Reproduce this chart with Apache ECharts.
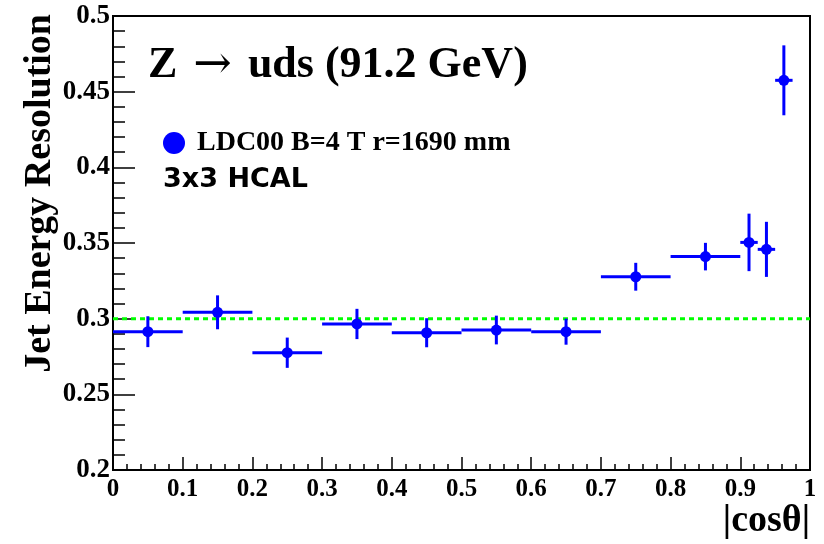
<!DOCTYPE html>
<html>
<head>
<meta charset="utf-8">
<script src="https://cdn.jsdelivr.net/npm/echarts@6/dist/echarts.min.js"></script>
<style>
  html, body { margin: 0; padding: 0; background: #fff; }
  #chart { width: 824px; height: 544px; }
</style>
</head>
<body>
<div id="chart"></div>
<script>
// bins in |cos theta|
var binLow  = [0.0, 0.1, 0.2, 0.3, 0.4, 0.5, 0.6, 0.7, 0.8, 0.9, 0.925, 0.95];
var binHigh = [0.1, 0.2, 0.3, 0.4, 0.5, 0.6, 0.7, 0.8, 0.9, 0.925, 0.95, 0.975];
var binCenter = [0.05, 0.15, 0.25, 0.35, 0.45, 0.55, 0.65, 0.75, 0.85, 0.9125, 0.9375, 0.9625];
// jet energy resolution and its error
var resolution = [0.2914, 0.3042, 0.2775, 0.2965, 0.2907, 0.2925, 0.2914, 0.3277, 0.3410, 0.3504, 0.3458, 0.4575];
var resError   = [0.0102, 0.0112, 0.0100, 0.0100, 0.0096, 0.0095, 0.0086, 0.0092, 0.0091, 0.0190, 0.0182, 0.0231];
// reference line
var refX = [0, 1];
var refY = [0.3, 0.3];

var seriesName = 'LDC00 B=4 T r=1690 mm';

var chart = echarts.init(document.getElementById('chart'));

var points = binCenter.map(function (x, i) { return [x, resolution[i]]; });
var bars = binCenter.map(function (x, i) {
  return [binLow[i], binHigh[i], resolution[i] - resError[i], resolution[i] + resError[i], x, resolution[i]];
});

var serif = '"Liberation Serif", "DejaVu Serif", serif';

option = {
  animation: false,
  backgroundColor: '#fff',
  grid: {
    left: 113, right: 14, top: 16, bottom: 74,
    show: true,
    borderColor: '#000',
    borderWidth: 2,
    backgroundColor: 'transparent'
  },
  legend: {
    data: [{ name: seriesName, itemStyle: { color: '#0000ff' } }],
    left: 158, top: 124,
    icon: 'circle',
    itemWidth: 22, itemHeight: 22,
    itemGap: 10,
    textStyle: { fontFamily: serif, fontWeight: 'bold', fontSize: 28, color: '#000', padding: [0, 0, 0, 7] }
  },
  xAxis: {
    type: 'value',
    min: 0, max: 1, interval: 0.1,
    axisLine: { lineStyle: { color: '#000', width: 2 } },
    axisTick: { inside: true, length: 13, lineStyle: { color: '#000', width: 1.5 } },
    minorTick: { show: true, splitNumber: 5, length: 6, lineStyle: { color: '#000', width: 1.5 } },
    splitLine: { show: false },
    axisLabel: {
      margin: 7, color: '#000', fontFamily: serif, fontWeight: 'bold', fontSize: 25,
      formatter: function (v) { return String(+v.toFixed(2)); }
    }
  },
  yAxis: {
    type: 'value',
    min: 0.2, max: 0.5, interval: 0.05,
    axisLine: { lineStyle: { color: '#000', width: 2 } },
    axisTick: { inside: true, length: 22, lineStyle: { color: '#000', width: 1.5 } },
    minorTick: { show: true, splitNumber: 5, length: 12, lineStyle: { color: '#000', width: 1.5 } },
    splitLine: { show: false },
    axisLabel: {
      margin: 3, color: '#000', fontFamily: serif, fontWeight: 'bold', fontSize: 27,
      formatter: function (v) { return String(+v.toFixed(2)); }
    }
  },
  graphic: [
    {
      type: 'text', x: 148, y: 66,
      style: {
        text: '{t|Z }{arr|\u2192}{t| uds (91.2 GeV)}',
        verticalAlign: 'middle',
        rich: {
          t: { fill: '#000', fontFamily: serif, fontWeight: 'bold', fontSize: 44 },
          arr: { fill: '#000', fontFamily: '"DejaVu Serif", serif', fontSize: 46, padding: [0, 5, 0, 5] }
        }
      }
    },
    {
      type: 'text', x: 163, y: 180,
      style: { text: '3x3 HCAL', fill: '#000', font: 'bold 27px "DejaVu Sans", sans-serif', verticalAlign: 'middle' }
    },
    {
      type: 'text', x: 40, y: 14, rotation: Math.PI / 2,
      style: { text: 'Jet Energy Resolution', fill: '#000', font: 'bold 38px ' + serif, align: 'right', verticalAlign: 'middle' }
    },
    {
      type: 'text', x: 810, y: 521,
      style: { text: '|cos\u03b8|', fill: '#000', font: 'bold 38px ' + serif, align: 'right', verticalAlign: 'middle' }
    }
  ],
  series: [
    {
      name: 'ref',
      type: 'line',
      data: refX.map(function (x, i) { return [x, refY[i]]; }),
      symbol: 'none',
      lineStyle: { color: '#00ff00', width: 3, type: [5, 4] },
      z: 1
    },
    {
      name: 'errors',
      type: 'custom',
      data: bars,
      renderItem: function (params, api) {
        var l = api.coord([api.value(0), api.value(5)]);
        var r = api.coord([api.value(1), api.value(5)]);
        var lo = api.coord([api.value(4), api.value(2)]);
        var hi = api.coord([api.value(4), api.value(3)]);
        var st = { stroke: '#0000ff', lineWidth: 3 };
        return {
          type: 'group',
          children: [
            { type: 'line', shape: { x1: l[0], y1: l[1], x2: r[0], y2: r[1] }, style: st },
            { type: 'line', shape: { x1: lo[0], y1: lo[1], x2: hi[0], y2: hi[1] }, style: st }
          ]
        };
      },
      z: 2
    },
    {
      name: seriesName,
      type: 'scatter',
      data: points,
      symbol: 'circle',
      symbolSize: 11,
      itemStyle: { color: '#0000ff', opacity: 1 },
      z: 3
    }
  ]
};

chart.setOption(option);
</script>
</body>
</html>
